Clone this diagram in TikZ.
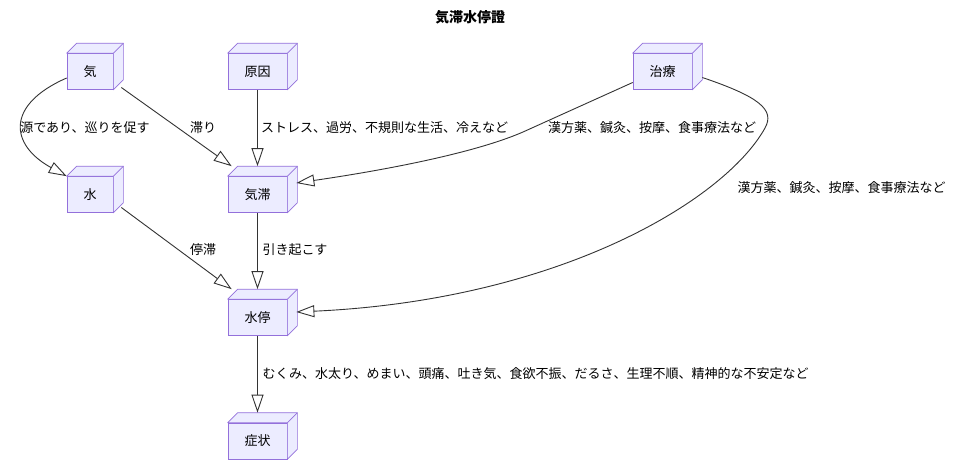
\documentclass[tikz,border=0pt]{standalone}
\usepackage{fontspec}
\setmainfont{Noto Sans CJK JP}
\usetikzlibrary{arrows.meta,positioning,calc}
\definecolor{boxfill}{HTML}{ECECFF}
\definecolor{boxline}{HTML}{9370DB}
\definecolor{edge}{HTML}{333333}

\begin{document}
\begin{tikzpicture}[
  x=1pt, y=-1pt,
  font=\fontsize{13}{15}\selectfont,
  box/.style={rectangle, draw=boxline, fill=boxfill, line width=0.7pt, minimum width=46pt, minimum height=36pt, inner xsep=16.5pt, inner ysep=0pt},
  lbl/.style={inner sep=0pt, text=black},
  arr/.style={-{Triangle[open, length=18pt, width=12pt, fill=white]}, edge, line width=0.9pt}
]
  \useasboundingbox[fill=white] (0,0) rectangle (953,475);
  \node[font=\fontsize{14}{16}\selectfont\bfseries] (title) at (470,17) {気滞水停證};

  \node[box] (ki) at (90,71.5) {気};
  \node[box] (genin) at (257.5,71.5) {原因};
  \node[box] (chiryo) at (662.5,71.5) {治療};
  \node[box] (mizu) at (90,194.5) {水};
  \node[box] (kitai) at (257.5,194.5) {気滞};
  \node[box] (suitei) at (257.5,317.5) {水停};
  \node[box] (shojo) at (257.5,441) {症状};
  % depth faces
  \foreach \n in {ki,genin,chiryo,mizu,kitai,suitei,shojo}{
    \draw[boxline, fill=boxfill, line width=0.7pt, line join=round] (\n.north west) -- ++(10pt,10pt)
      -- ([shift={(10pt,10pt)}]\n.north east) -- ([shift={(10pt,10pt)}]\n.south east)
      -- (\n.south east) -- (\n.north east) -- cycle;
    \draw[boxline, line width=0.7pt] (\n.north east) -- ++(10pt,10pt);
  }

  \draw[arr] ([yshift=-6.5pt]ki.west) .. controls (5,105) and (10,145) .. (mizu.north west);
  \draw[arr] ([shift={(8pt,-16pt)}]ki.east) -- ([shift={(4pt,10pt)}]kitai.north west);
  \draw[arr] (genin) -- ([yshift=10pt]kitai.north);
  \draw[arr] ([yshift=-11pt]chiryo.west) -- (523,132) .. controls (470,155) and (372,172) .. ([shift={(9pt,11.5pt)}]kitai.east);
  \draw[arr] ([shift={(10pt,-6pt)}]chiryo.east) .. controls (760,97) and (775,110) .. (765,128)
    .. controls (725,200) and (560,300) .. ([shift={(9pt,5.5pt)}]suitei.east);
  \draw[arr] ([shift={(8pt,-13pt)}]mizu.east) -- ([shift={(4pt,10pt)}]suitei.north west);
  \draw[arr] (kitai) -- ([yshift=10pt]suitei.north);
  \draw[arr] (suitei) -- ([yshift=10pt]shojo.north);

  \node[lbl] (lab1) at (85,128) {源であり、巡りを促す};
  \node[lbl] (lab2) at (203,128) {滞り};
  \node[lbl] (lab3) at (384.5,128) {ストレス、過労、不規則な生活、冷えなど};
  \node[lbl] (lab4) at (652,128) {漢方薬、鍼灸、按摩、食事療法など};
  \node[lbl] (lab5) at (841.5,188) {漢方薬、鍼灸、按摩、食事療法など};
  \node[lbl] (lab6) at (203,250) {停滞};
  \node[lbl] (lab7) at (295,250) {引き起こす};
  \node[lbl] (lab8) at (535.5,374) {むくみ、水太り、めまい、頭痛、吐き気、食欲不振、だるさ、生理不順、精神的な不安定など};
\end{tikzpicture}
\end{document}
